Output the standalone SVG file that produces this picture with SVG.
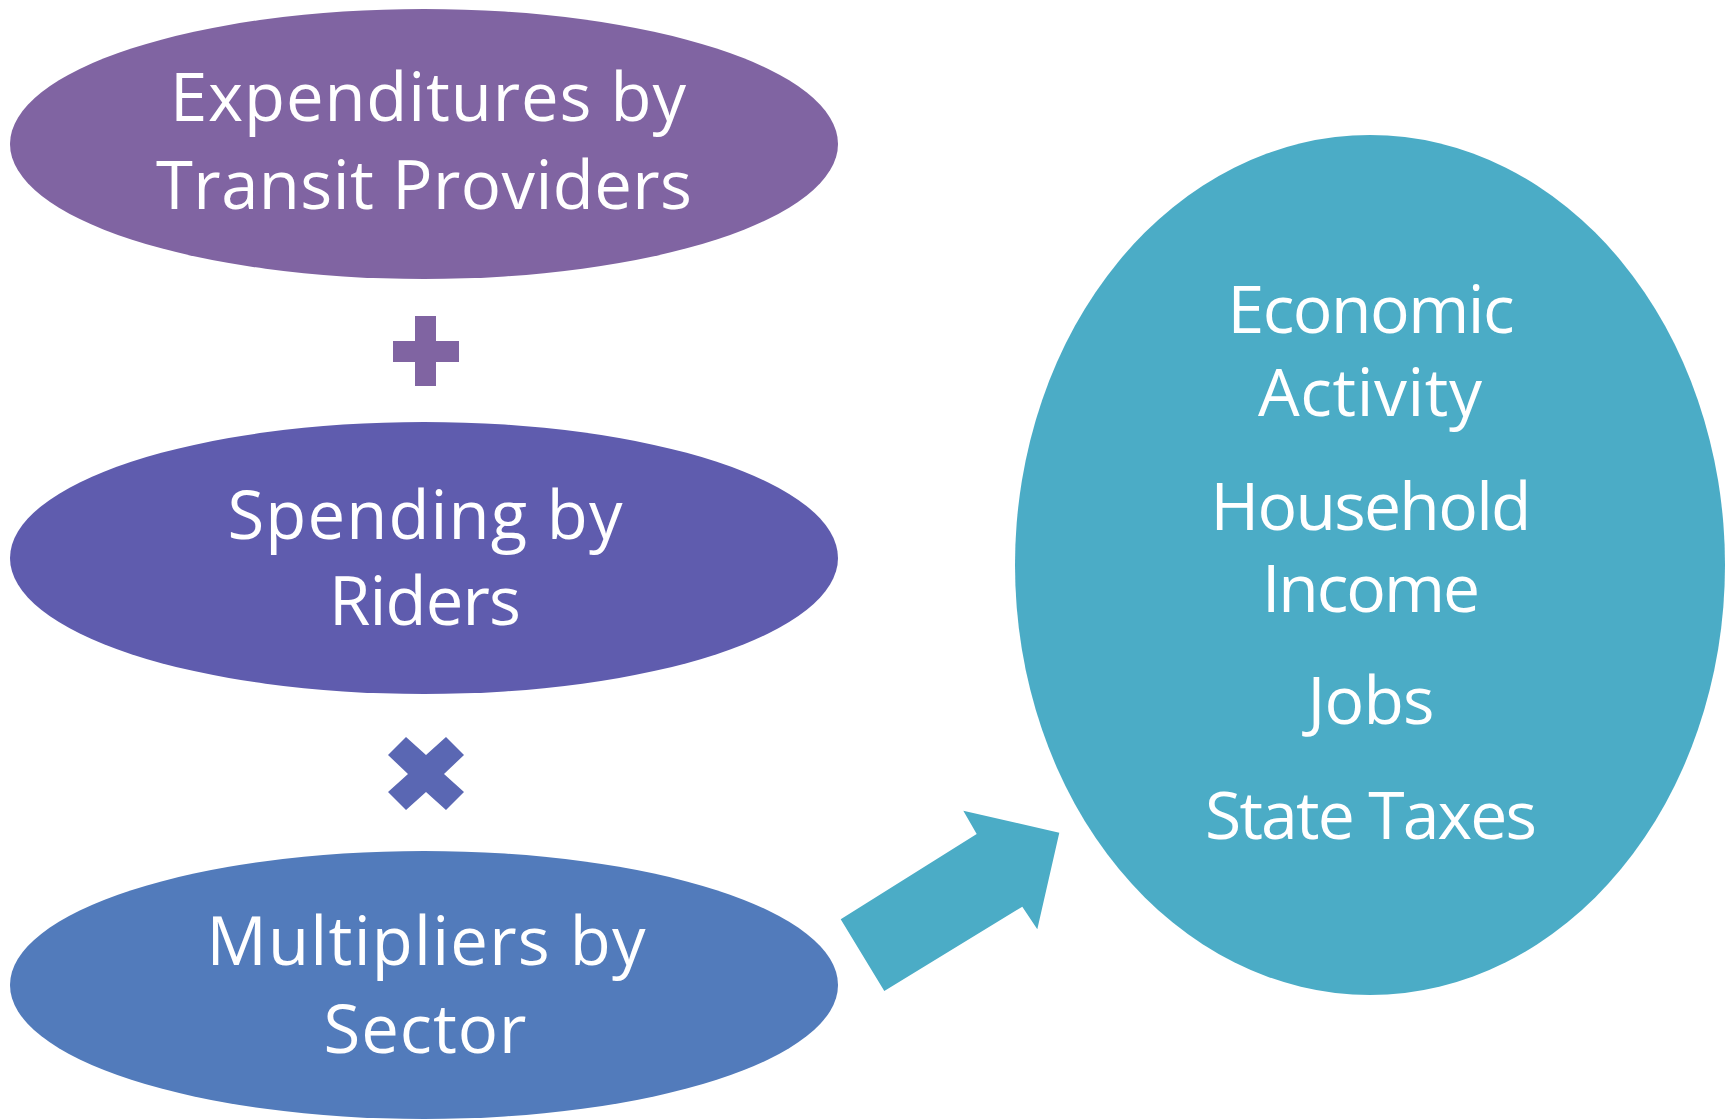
<svg xmlns="http://www.w3.org/2000/svg" width="1734" height="1119" viewBox="0 0 1734 1119">
<style>
.t{font-family:"Open Sans","Noto Sans","Liberation Sans",sans-serif;fill:#ffffff;text-anchor:middle;font-size:67px}
.r{font-size:66px}
</style>
<rect width="1734" height="1119" fill="#ffffff"/>
<g id="expenditures">
<ellipse cx="424" cy="144" rx="414" ry="135" fill="#8064A2"/>
<text class="t" x="428" y="121" textLength="516" lengthAdjust="spacing">Expenditures by</text>
<text class="t" x="424" y="209" textLength="536" lengthAdjust="spacing">Transit Providers</text>
</g>
<g id="plus">
<path d="M415,316 H436 V341 H459 V362 H436 V386 H415 V362 H393 V341 H415 Z" fill="#8064A2"/>
</g>
<g id="spending">
<ellipse cx="424" cy="558" rx="414" ry="136" fill="#5F5CAE"/>
<text class="t" x="425" y="539" textLength="395" lengthAdjust="spacing">Spending by</text>
<text class="t" x="425" y="625" textLength="192" lengthAdjust="spacing">Riders</text>
</g>
<g id="times">
<polygon points="388,755 406,737 426,755 446,737 464,755 444,774 464,792 446,810 426,792 406,810 388,792 408,774" fill="#5A67B3"/>
</g>
<g id="multipliers">
<ellipse cx="424" cy="985" rx="414" ry="134" fill="#527BBB"/>
<text class="t" x="426" y="965" textLength="439" lengthAdjust="spacing">Multipliers by</text>
<text class="t" x="425" y="1053" textLength="203" lengthAdjust="spacing">Sector</text>
</g>
<g id="outcomes">
<ellipse cx="1370" cy="565" rx="355" ry="430" fill="#4BACC6"/>
<text class="t r" x="1371" y="333" textLength="287" lengthAdjust="spacing">Economic</text>
<text class="t r" x="1370" y="416" textLength="224" lengthAdjust="spacing">Activity</text>
<text class="t r" x="1371" y="530" textLength="321" lengthAdjust="spacing">Household</text>
<text class="t r" x="1371" y="612" textLength="218" lengthAdjust="spacing">Income</text>
<text class="t r" x="1371" y="724" textLength="127" lengthAdjust="spacing">Jobs</text>
<text class="t r" x="1371" y="839" textLength="332" lengthAdjust="spacing">State Taxes</text>
</g>
<g id="connectors">
<polygon points="840.7,919.3 976.7,834 963.3,810.7 1059.3,832.7 1037.3,929.3 1022.3,906.7 884.3,991" fill="#4BACC6"/>
</g>
</svg>
